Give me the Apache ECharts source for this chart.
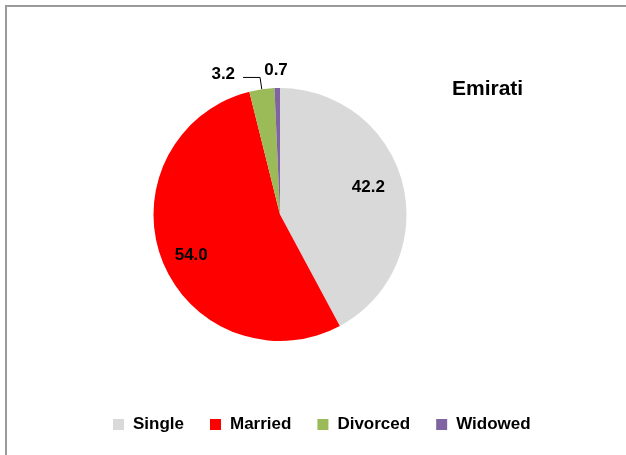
<!DOCTYPE html>
<html>
<head>
<meta charset="utf-8">
<script src="https://cdn.jsdelivr.net/npm/echarts@6/dist/echarts.min.js"></script>
<style>
html,body{margin:0;padding:0;background:#fff;overflow:hidden;}
#c{width:626px;height:455px;}
</style>
</head>
<body>
<div id="c"></div>
<script>
const categories = ['Single', 'Married', 'Divorced', 'Widowed'];
const values = [42.2, 54.0, 3.2, 0.7];
const colors = ['#D9D9D9', '#FF0000', '#9BBB59', '#8064A2'];
const chartTitle = 'Emirati';
const insideLabelled = ['Single', 'Married'];

const FONT = '"Liberation Sans", Arial, sans-serif';
const chart = echarts.init(document.getElementById('c'), null, {renderer: 'canvas'});

const mainData = categories.map((name, i) => {
  const inside = insideLabelled.includes(name);
  const item = {
    name: name,
    value: values[i],
    itemStyle: {color: colors[i]},
    label: {show: !inside}
  };
  if (name === 'Divorced') {
    item.labelLine = {show: true, length: 12, length2: 17, lineStyle: {color: '#000', width: 1}};
  }
  if (name === 'Widowed') {
    item.labelLine = {show: false, length: 18, length2: 0};
  }
  return item;
});

const innerLabelData = categories.map((name, i) => ({
  name: name,
  value: values[i],
  itemStyle: {color: 'rgba(0,0,0,0)'},
  label: {show: insideLabelled.includes(name)}
}));

const center = [280, 214.5];
const R = 126.5;

chart.setOption({
  animation: false,
  backgroundColor: '#fff',
  title: {
    text: chartTitle,
    left: 452,
    top: 79,
    padding: 0,
    textStyle: {fontFamily: FONT, fontWeight: 'bold', fontSize: 21, color: '#000'}
  },
  legend: {
    data: categories,
    left: 113,
    top: 416,
    padding: 0,
    orient: 'horizontal',
    icon: 'rect',
    itemWidth: 11,
    itemHeight: 11,
    itemGap: 26,
    selectedMode: false,
    textStyle: {fontFamily: FONT, fontWeight: 'bold', fontSize: 17, color: '#000', padding: [0, 0, 0, 4]}
  },
  graphic: [{
    type: 'polyline',
    shape: {points: [[6, 470], [6, 6], [640, 6]]},
    style: {fill: 'none', stroke: '#9A9A9A', lineWidth: 2},
    silent: true,
    z: 100
  }],
  series: [
    {
      type: 'pie',
      center: center,
      radius: [0, R],
      startAngle: 90,
      clockwise: true,
      avoidLabelOverlap: false,
      silent: true,
      itemStyle: {borderWidth: 0},
      label: {
        position: 'outside',
        formatter: p => p.value.toFixed(1),
        fontFamily: FONT, fontWeight: 'bold', fontSize: 17, color: '#000',
        distanceToLabelLine: 5
      },
      labelLayout: function (p) {
        if (p.dataIndex === 3) return {dx: 16, dy: 0};
        if (p.dataIndex === 2) return {dx: -3, dy: -3};
        return {};
      },
      data: mainData
    },
    {
      type: 'pie',
      center: center,
      radius: [60, R],
      startAngle: 90,
      clockwise: true,
      silent: true,
      avoidLabelOverlap: false,
      label: {
        position: 'inside',
        formatter: p => p.value.toFixed(1),
        fontFamily: FONT, fontWeight: 'bold', fontSize: 17, color: '#000'
      },
      labelLayout: function (p) {
        if (p.dataIndex === 0) return {dx: -5, dy: -4};
        if (p.dataIndex === 1) return {dx: 1, dy: 6};
        return {};
      },
      labelLine: {show: false},
      data: innerLabelData
    }
  ]
});
</script>
</body>
</html>
